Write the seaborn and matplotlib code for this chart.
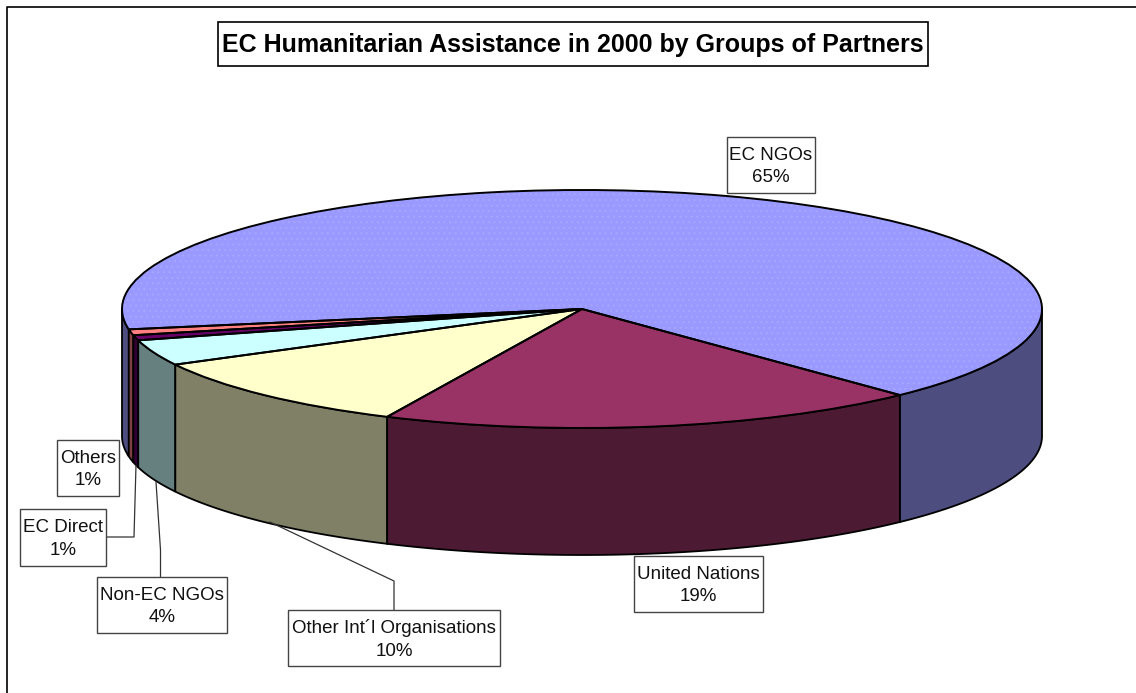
import numpy as np
import matplotlib
matplotlib.use("Agg")
import matplotlib.pyplot as plt
from matplotlib.patches import Rectangle
import seaborn as sns

labels = ["EC NGOs", "Others", "EC Direct", "Non-EC NGOs", "Other Int\u00b4l Organisations", "United Nations"]
percent_labels = [65, 1, 1, 4, 10, 19]
# slice shares as they appear on the tilted disc
values = [65.6, 0.8, 0.7, 3.5, 10.3, 19.1]
top_colors = ["#9999FF", "#FF8080", "#660066", "#CCFFFF", "#FFFFCC", "#993366"]
side_colors = ["#4D4D80", "#804040", "#330033", "#668080", "#808066", "#4D1A33"]
title = "EC Humanitarian Assistance in 2000 by Groups of Partners"
start_angle = -46.3

W, H = 1136, 693
CX, CY, RX, RY, DEPTH = 582, 309, 460, 119, 127

sns.set_theme(style="white")
plt.rcParams["font.family"] = ["Liberation Sans", "DejaVu Sans"]
plt.rcParams["hatch.linewidth"] = 0.8

fig = plt.figure(figsize=(W / 100, H / 100), dpi=100, facecolor="white")
ax = fig.add_axes([0, 0, 1, 1])

palette = sns.color_palette(top_colors)
faces, _ = ax.pie(values, colors=palette, startangle=start_angle, counterclock=True,
                  radius=1, wedgeprops=dict(linewidth=0), frame=True)
for w in faces:
    w.set_zorder(5)
dots = ax.pie([values[0], sum(values[1:])], colors=["none", "none"], startangle=start_angle,
              radius=1, wedgeprops=dict(linewidth=0), frame=True)[0]
dots[0].set(hatch="...", edgecolor="#A6A6FF", zorder=6)
dots[1].set_visible(False)
outlines = ax.pie(values, colors=["none"] * len(values), startangle=start_angle, counterclock=True,
                  radius=1, wedgeprops=dict(edgecolor="black", linewidth=1.4), frame=True)[0]
for w in outlines:
    w.set_zorder(7)

# front wall of the disc, built from the same slice values
depth = DEPTH / RY
edges = start_angle + np.concatenate([[0], np.cumsum(values)]) * 3.6
for i in range(len(values)):
    a0, a1 = edges[i], edges[i + 1]
    for lo, hi in [(a0, min(a1, 0)), (max(a0, 180), min(a1, 360))]:
        if hi <= lo:
            continue
        t = np.radians(np.linspace(lo, hi, 120))
        xs = np.concatenate([np.cos(t), np.cos(t[::-1])])
        ys = np.concatenate([np.sin(t), np.sin(t[::-1]) - depth])
        ax.fill(xs, ys, facecolor=side_colors[i], edgecolor="black", linewidth=1.3, zorder=2)

ax.set_aspect("auto")
ax.set_xlim((0 - CX) / RX, (W - CX) / RX)
ax.set_ylim((CY - H) / RY, CY / RY)
ax.axis("off")

# overlay in pixel coordinates for frame, boxes and leaders
ov = fig.add_axes([0, 0, 1, 1], facecolor="none")
ov.set_xlim(0, W)
ov.set_ylim(H, 0)
ov.axis("off")

ov.plot([7, 7, W], [H, 7, 7], color="black", lw=1.2, zorder=1)

leaders = [
    ([106, 134, 136], [537, 537, 465]),
    ([160.5, 160.5, 156], [578, 550, 482]),
    ([394, 394, 270], [610, 581, 522]),
]
for lx, ly in leaders:
    ov.plot(lx, ly, color="#333333", lw=0.9, zorder=8)

boxes = {
    "EC NGOs": (727, 137, 815, 193),
    "Others": (57, 440, 119, 496),
    "EC Direct": (20, 509, 106, 566),
    "Non-EC NGOs": (97, 577, 227, 633),
    "Other Int\u00b4l Organisations": (288, 610, 500, 666),
    "United Nations": (634, 556, 763, 612),
}
for lab, val in zip(labels, percent_labels):
    x0, y0, x1, y1 = boxes[lab]
    ov.add_patch(Rectangle((x0, y0), x1 - x0, y1 - y0, facecolor="white",
                           edgecolor="#444444", lw=1.0, zorder=9))
    ov.text((x0 + x1) / 2, (y0 + y1) / 2 + 1.5, f"{lab}\n{val}%", ha="center", va="center",
            fontsize=13.5, color="#111111", linespacing=1.4, zorder=10)

ov.add_patch(Rectangle((217.5, 21.5), 710, 44, facecolor="white", edgecolor="black", lw=1.2, zorder=9))
ov.text(572.5, 45, title, ha="center", va="center", fontsize=18, fontweight="bold",
        color="black", zorder=10)

fig.savefig("out.png", dpi=100, facecolor="white")
